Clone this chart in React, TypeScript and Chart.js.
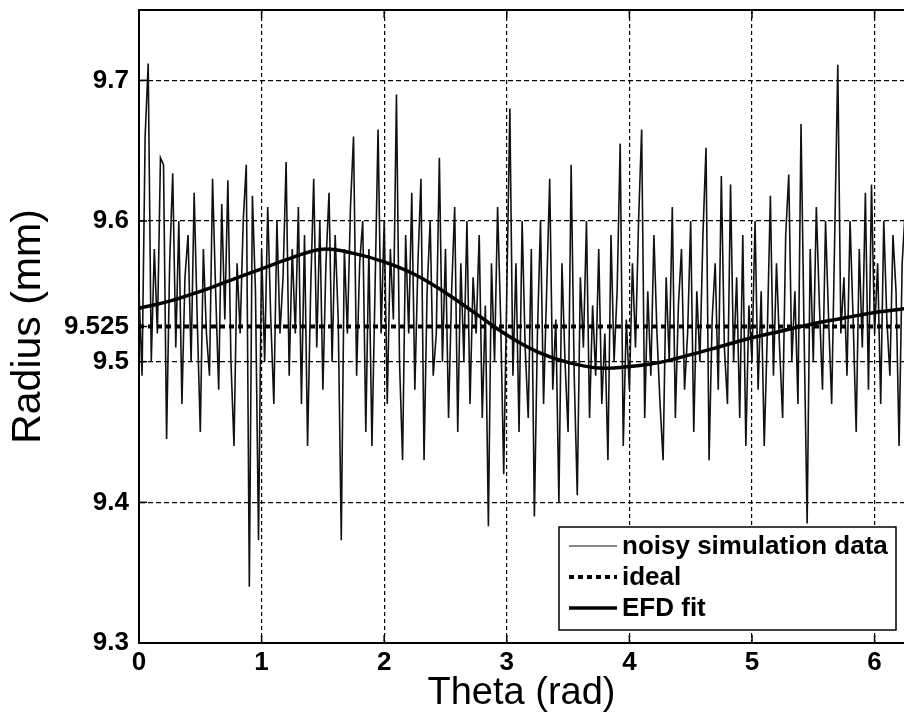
import React, { useEffect, useRef } from 'react';
import { Chart, registerables } from 'chart.js';

Chart.register(...registerables);

// ---------- data ----------
const thetaStep = 0.025;
const noisyValues = [
  9.55, 9.49, 9.66, 9.712, 9.50, 9.58, 9.52, 9.645, 9.64, 9.445,
  9.57, 9.634, 9.51, 9.60, 9.47, 9.56, 9.59, 9.50, 9.62, 9.53,
  9.45, 9.58, 9.52, 9.49, 9.63, 9.55, 9.48, 9.612, 9.53, 9.629,
  9.50, 9.44, 9.57, 9.52, 9.60, 9.64, 9.34, 9.618, 9.55, 9.373,
  9.58, 9.50, 9.61, 9.53, 9.47, 9.60, 9.52, 9.56, 9.642, 9.49,
  9.58, 9.52, 9.61, 9.47, 9.59, 9.44, 9.55, 9.63, 9.51, 9.60,
  9.48, 9.57, 9.62, 9.50, 9.59, 9.53, 9.373, 9.58, 9.52, 9.61,
  9.66, 9.49, 9.57, 9.60, 9.45, 9.58, 9.44, 9.55, 9.665, 9.52,
  9.60, 9.47, 9.58, 9.53, 9.69, 9.50, 9.43, 9.59, 9.52, 9.62,
  9.48, 9.57, 9.63, 9.43, 9.55, 9.60, 9.49, 9.52, 9.645, 9.50,
  9.58, 9.46, 9.55, 9.61, 9.45, 9.57, 9.50, 9.60, 9.47, 9.56,
  9.52, 9.59, 9.46, 9.54, 9.383, 9.57, 9.50, 9.61, 9.53, 9.42,
  9.55, 9.68, 9.49, 9.57, 9.45, 9.60, 9.51, 9.46, 9.58, 9.39,
  9.52, 9.60, 9.47, 9.55, 9.63, 9.48, 9.53, 9.40, 9.57, 9.50,
  9.45, 9.64, 9.49, 9.405, 9.56, 9.51, 9.60, 9.46, 9.54, 9.49,
  9.58, 9.47, 9.52, 9.43, 9.59, 9.50, 9.55, 9.655, 9.44, 9.53,
  9.48, 9.57, 9.51, 9.60, 9.665, 9.46, 9.55, 9.49, 9.59, 9.52,
  9.47, 9.43, 9.56, 9.50, 9.61, 9.46, 9.54, 9.58, 9.48, 9.52,
  9.60, 9.45, 9.55, 9.50, 9.59, 9.652, 9.43, 9.53, 9.57, 9.48,
  9.632, 9.51, 9.47, 9.626, 9.50, 9.56, 9.46, 9.59, 9.44, 9.54,
  9.50, 9.60, 9.48, 9.55, 9.44, 9.52, 9.618, 9.49, 9.57, 9.51,
  9.46, 9.59, 9.633, 9.50, 9.55, 9.47, 9.669, 9.52, 9.385, 9.58,
  9.50, 9.61, 9.54, 9.48, 9.60, 9.53, 9.47, 9.59, 9.711, 9.52,
  9.56, 9.49, 9.60, 9.53, 9.45, 9.58, 9.51, 9.62, 9.48, 9.626,
  9.52, 9.57, 9.47, 9.60, 9.53, 9.49, 9.59, 9.55, 9.44, 9.57,
  9.608, 9.53,
];

const fitTheta = [
  0, 0.25, 0.5, 0.75, 1.0, 1.25, 1.5, 1.75, 2.0, 2.25, 2.5, 2.75, 3.0,
  3.25, 3.5, 3.75, 4.0, 4.25, 4.5, 4.75, 5.0, 5.25, 5.5, 5.75, 6.0, 6.283,
];
const fitValues = [
  9.538, 9.543, 9.550, 9.558, 9.566, 9.574, 9.580, 9.577, 9.571, 9.562,
  9.549, 9.534, 9.519, 9.507, 9.4995, 9.4955, 9.4965, 9.4995, 9.505, 9.511,
  9.517, 9.522, 9.527, 9.531, 9.535, 9.538,
];

const idealRadius = 9.525;
const idealTheta = [0, 6.283];

const xTicks = [0, 1, 2, 3, 4, 5, 6];
const xTickLabels = ['0', '1', '2', '3', '4', '5', '6'];
const yTicks = [9.3, 9.4, 9.5, 9.525, 9.6, 9.7];
const yTickLabels = ['9.3', '9.4', '9.5', '9.525', '9.6', '9.7'];

const seriesLabels = ['noisy simulation data', 'ideal', 'EFD fit'];
const xTitle = 'Theta (rad)';
const yTitle = 'Radius (mm)';

const FONT = '"Liberation Sans", Arial, sans-serif';

const framePlugin = {
  id: 'frameAndLegend',
  afterDraw(chart: any) {
    const { ctx, chartArea } = chart;
    const { left, right, top, bottom } = chartArea;
    const xs = chart.scales.x;
    const ys = chart.scales.y;
    ctx.save();
    ctx.setLineDash([]);
    ctx.strokeStyle = '#000';
    // top frame
    ctx.lineWidth = 2;
    ctx.beginPath();
    ctx.moveTo(left, top);
    ctx.lineTo(right, top);
    ctx.stroke();
    // inward tick marks
    ctx.lineWidth = 1.5;
    xTicks.forEach((v) => {
      if (v === xTicks[0]) return;
      const px = xs.getPixelForValue(v);
      ctx.beginPath();
      ctx.moveTo(px, bottom);
      ctx.lineTo(px, bottom - 8);
      ctx.moveTo(px, top);
      ctx.lineTo(px, top + 8);
      ctx.stroke();
    });
    yTicks.forEach((v) => {
      if (v === yTicks[0]) return;
      const py = ys.getPixelForValue(v);
      ctx.beginPath();
      ctx.moveTo(left, py);
      ctx.lineTo(left + 8, py);
      ctx.stroke();
    });

    // legend box
    const bw = 337;
    const bh = 103;
    const bx = right - 8 - bw;
    const by = bottom - 13 - bh;
    ctx.fillStyle = '#fff';
    ctx.fillRect(bx, by, bw, bh);
    ctx.lineWidth = 1.5;
    ctx.strokeRect(bx, by, bw, bh);

    const order = [0, 1, 2];
    ctx.font = `bold 26px ${FONT}`;
    ctx.textBaseline = 'middle';
    ctx.textAlign = 'left';
    order.forEach((di, row) => {
      const ds = chart.data.datasets[di];
      const cy = by + 19 + row * 31;
      ctx.strokeStyle = ds.borderColor;
      ctx.lineWidth = di === 0 ? 1.2 : ds.borderWidth;
      ctx.setLineDash(ds.borderDash || []);
      ctx.beginPath();
      ctx.moveTo(bx + 10, cy);
      ctx.lineTo(bx + 58, cy);
      ctx.stroke();
      ctx.setLineDash([]);
      ctx.fillStyle = '#000';
      ctx.fillText(ds.label, bx + 63, cy + 1);
    });
    ctx.restore();
  },
};

export default function App() {
  const canvasRef = useRef<HTMLCanvasElement | null>(null);

  useEffect(() => {
    document.body.style.margin = '0';
    const canvas = canvasRef.current;
    if (!canvas) return;

    const noisyData = noisyValues.map((v, i) => ({ x: i * thetaStep, y: v }));
    const fitData = fitTheta.map((t, i) => ({ x: t, y: fitValues[i] }));
    const idealData = idealTheta.map((t) => ({ x: t, y: idealRadius }));

    const chart = new Chart(canvas, {
      type: 'line',
      data: {
        datasets: [
          {
            label: seriesLabels[0],
            data: noisyData,
            borderColor: '#111',
            borderWidth: 1.6,
            pointRadius: 0,
            fill: false,
            tension: 0,
            order: 2,
          },
          {
            label: seriesLabels[1],
            data: idealData,
            borderColor: '#000',
            borderWidth: 4,
            borderDash: [5, 4],
            pointRadius: 0,
            fill: false,
            order: 1,
          },
          {
            label: seriesLabels[2],
            data: fitData,
            borderColor: '#000',
            borderWidth: 3.5,
            pointRadius: 0,
            fill: false,
            tension: 0.4,
            order: 0,
          },
        ],
      } as any,
      options: {
        responsive: false,
        animation: false,
        devicePixelRatio: 1,
        layout: { padding: { left: 0, right: 0, top: 10, bottom: 0 } },
        plugins: {
          legend: { display: false },
          tooltip: { enabled: false },
        },
        scales: {
          x: {
            type: 'linear',
            min: 0,
            max: 6.24,
            afterBuildTicks: (s: any) => {
              s.ticks = xTicks.map((v) => ({ value: v }));
            },
            afterFit: (s: any) => {
              s.height = 72;
              s.paddingLeft = 0;
              s.paddingRight = 0;
            },
            ticks: {
              autoSkip: false,
              maxRotation: 0,
              padding: 4,
              color: '#000',
              font: { family: FONT, size: 26, weight: 'bold' },
              callback: (_v: any, i: number) => xTickLabels[i],
            },
            grid: { color: '#000', lineWidth: 1.2, drawTicks: false },
            border: { display: true, color: '#000', width: 2, dash: [4, 3] },
            title: {
              display: true,
              text: xTitle,
              color: '#000',
              font: { family: FONT, size: 38, lineHeight: 1.1 },
              padding: { top: 0, bottom: 1 },
            },
          },
          y: {
            type: 'linear',
            min: 9.3,
            max: 9.75,
            afterBuildTicks: (s: any) => {
              s.ticks = yTicks.map((v) => ({ value: v }));
            },
            afterFit: (s: any) => {
              s.width = 139;
              s.paddingTop = 0;
              s.paddingBottom = 0;
            },
            ticks: {
              autoSkip: false,
              padding: 10,
              color: '#000',
              font: { family: FONT, size: 26, weight: 'bold' },
              callback: (_v: any, i: number) => yTickLabels[i],
            },
            grid: {
              color: (c: any) =>
                c.tick && (c.tick.value === idealRadius || c.tick.value === yTicks[0])
                  ? 'rgba(0,0,0,0)'
                  : '#000',
              lineWidth: 1.2,
              drawTicks: false,
            },
            border: { display: true, color: '#000', width: 2, dash: [5, 3] },
            title: {
              display: true,
              text: yTitle,
              color: '#000',
              font: { family: FONT, size: 41, lineHeight: 1.2 },
              padding: { top: 4, bottom: 0 },
            },
          },
        },
      } as any,
      plugins: [framePlugin],
    });

    return () => {
      chart.destroy();
    };
  }, []);

  return (
    <div style={{ width: 904, height: 715, background: '#fff' }}>
      <canvas ref={canvasRef} width={904} height={715} style={{ width: 904, height: 715, display: 'block' }} />
    </div>
  );
}
